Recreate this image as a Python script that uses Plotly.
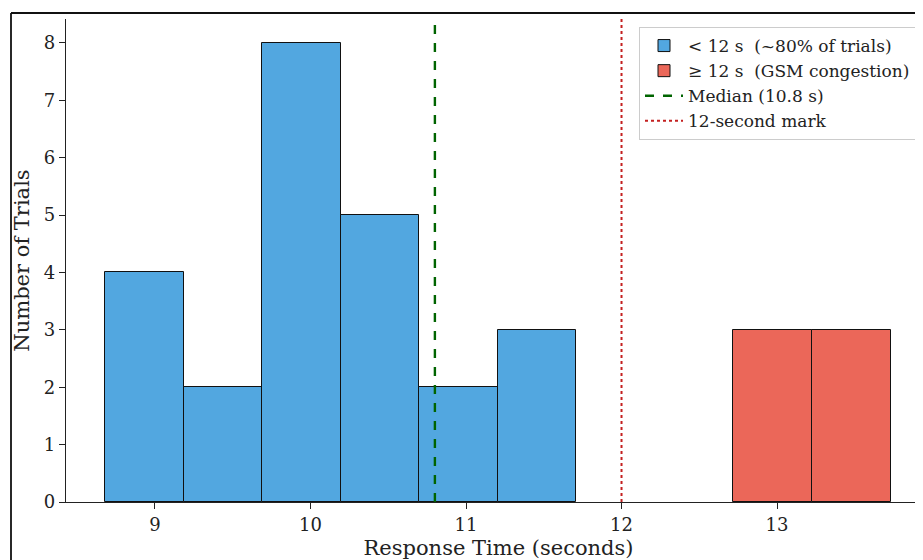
import plotly.graph_objects as go

# ---- data ----
bin_start = 8.68
bin_width = 0.505
fast_counts = [4, 2, 8, 5, 2, 3, 0, 0, 0, 0]   # < 12 s
slow_counts = [0, 0, 0, 0, 0, 0, 0, 0, 3, 3]   # >= 12 s
median_value = 10.8
threshold_value = 12.0
x_ticks = [9, 10, 11, 12, 13]
y_ticks = [0, 1, 2, 3, 4, 5, 6, 7, 8]

x_range = [8.428, 13.990]
y_range = [0, 8.418]

centers = [bin_start + bin_width * (i + 0.5) for i in range(len(fast_counts))]

fx = [c for c, v in zip(centers, fast_counts) if v > 0]
fy = [v for v in fast_counts if v > 0]
sx = [c for c, v in zip(centers, slow_counts) if v > 0]
sy = [v for v in slow_counts if v > 0]

FONT = "DejaVu Serif"

fig = go.Figure()
fig.add_trace(go.Bar(
    x=fx, y=fy, width=bin_width,
    marker=dict(color="rgba(52,152,219,0.85)", line=dict(color="#111111", width=1)),
    name="< 12 s  (~80% of trials)",
))
fig.add_trace(go.Bar(
    x=sx, y=sy, width=bin_width,
    marker=dict(color="rgba(231,76,60,0.85)", line=dict(color="#111111", width=1)),
    name="≥ 12 s  (GSM congestion)",
))
fig.add_trace(go.Scatter(
    x=[median_value, median_value], y=y_range, mode="lines",
    line=dict(color="#006400", width=2.4, dash="dash"),
    name="Median (10.8 s)",
))
fig.add_trace(go.Scatter(
    x=[threshold_value, threshold_value], y=y_range, mode="lines",
    line=dict(color="#c42020", width=2, dash="dot"),
    name="12-second mark",
))

# page is offset by the 8px body margin; layout is in figure pixels
OFF = 8
W, H = 923, 560
L = 66 - OFF
T = 19 - OFF
B = H - (502 - OFF)
R = 0
pw, ph = W - L - R, H - T - B

def px_x(p):  # p: page pixel
    return (p - OFF - L) / pw

def px_y(p):
    return (H - B - (p - OFF)) / ph

fig.update_layout(
    width=W, height=H,
    margin=dict(l=L, r=R, t=T, b=B),
    plot_bgcolor="white", paper_bgcolor="white",
    font=dict(family=FONT, size=17, color="#222222"),
    barmode="overlay",
    bargap=0,
    showlegend=True,
    legend=dict(
        x=px_x(639), y=px_y(27), xanchor="left", yanchor="top",
        bgcolor="rgba(255,255,255,0.9)", bordercolor="#cccccc", borderwidth=1,
        font=dict(family=FONT, size=17, color="#222222"),
        tracegroupgap=0, itemwidth=38,
    ),
    xaxis=dict(
        range=x_range, tickvals=x_ticks, ticks="outside", ticklen=6, tickwidth=1.2,
        tickcolor="#222222", showline=True, linecolor="#222222", linewidth=1.4,
        showgrid=False, zeroline=False, mirror=False,
        title=dict(text="Response Time (seconds)", font=dict(size=21, family=FONT), standoff=6),
        tickfont=dict(size=18, family=FONT),
    ),
    yaxis=dict(
        range=y_range, tickvals=y_ticks, ticks="outside", ticklen=6, tickwidth=1.2,
        tickcolor="#222222", showline=True, linecolor="#222222", linewidth=1.4,
        showgrid=False, zeroline=False, mirror=False,
        title=dict(text="Number of Trials", font=dict(size=21, family=FONT), standoff=8),
        tickfont=dict(size=18, family=FONT),
    ),
    shapes=[
        dict(type="line", xref="paper", yref="paper",
             x0=px_x(11), x1=px_x(W + 20), y0=px_y(13), y1=px_y(13),
             line=dict(color="#111111", width=1.8)),
        dict(type="line", xref="paper", yref="paper",
             x0=px_x(11), x1=px_x(11), y0=px_y(13), y1=px_y(H + 20),
             line=dict(color="#111111", width=1.8)),
    ],
)

fig.write_html("out.html")
